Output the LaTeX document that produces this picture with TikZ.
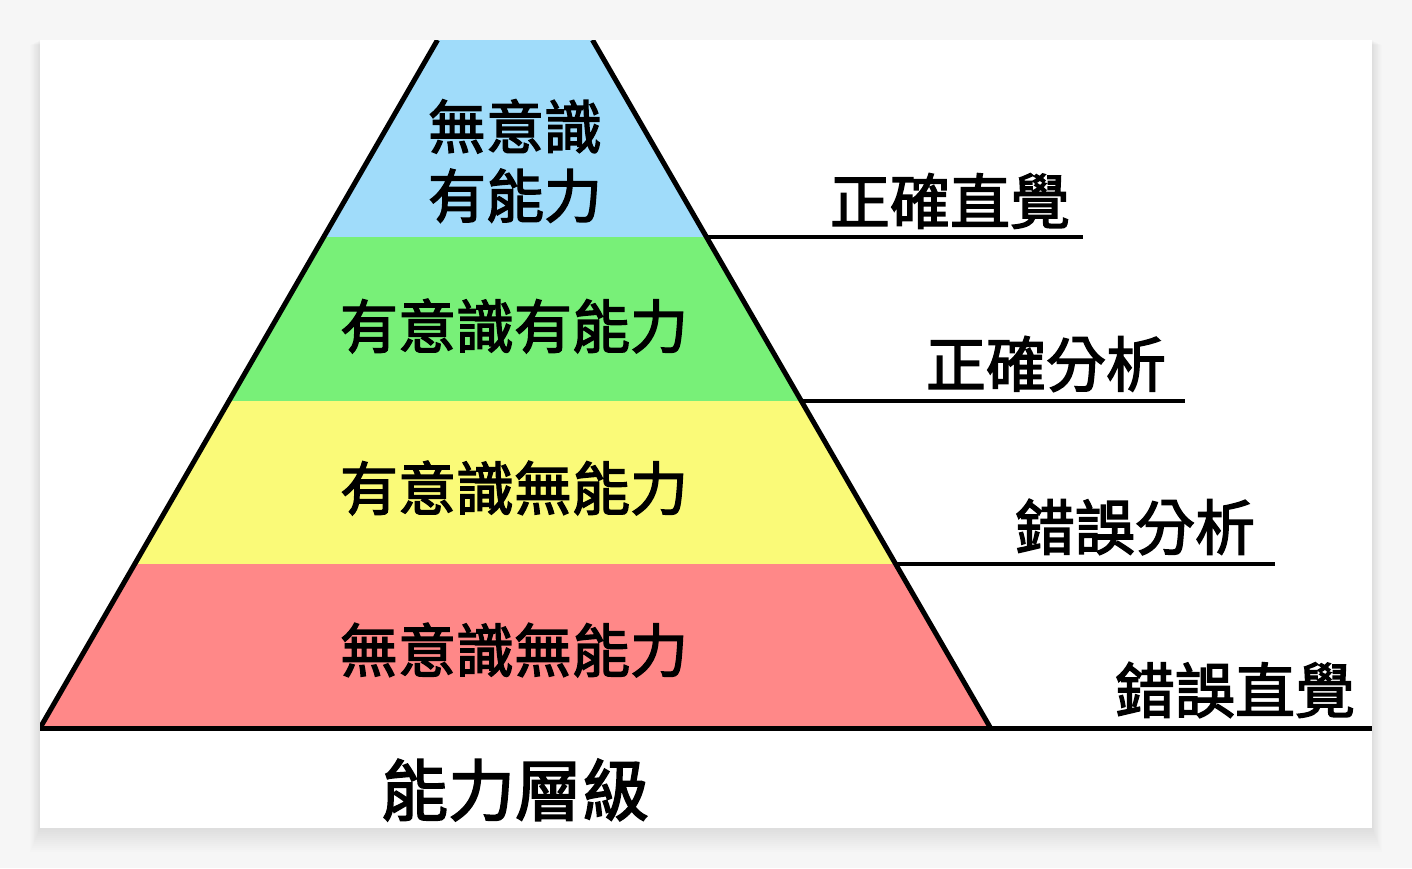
\documentclass[tikz,border=0pt]{standalone}
\usepackage{fontspec}
\newfontfamily\cjk{Noto Sans CJK TC}[FakeBold=2.4]
\usetikzlibrary{positioning}
\definecolor{lvblue}{RGB}{160,220,250}
\definecolor{lvgreen}{RGB}{120,240,120}
\definecolor{lvyellow}{RGB}{250,250,120}
\definecolor{lvred}{RGB}{255,136,136}
\definecolor{lvbg}{RGB}{246,246,246}
\tikzset{
  layertext/.style={font=\cjk\fontsize{58}{69}\selectfont, align=center, inner sep=0pt},
  sidetext/.style={font=\cjk\fontsize{60}{70}\selectfont, inner sep=0pt},
  pyredge/.style={line width=5pt},
  tickline/.style={line width=4pt}
}

\begin{document}
\begin{tikzpicture}[x=1pt,y=-1pt]
\useasboundingbox (0,0) rectangle (1412,868);
\fill[lvbg] (0,0) rectangle (1412,868);
% soft shadow under the card
\foreach \s in {2,4,...,24}
  \fill[black,opacity=0.008] (40-0.4*\s,40+0.2*\s) rectangle (1372+0.4*\s,828+\s);
\fill[white] (40,40) rectangle (1372,828);

\begin{scope}
\clip (40,40) rectangle (1372,828);
% coloured layers
\foreach \ya/\yb/\col in {40/237/lvblue,237/401/lvgreen,401/564/lvyellow,564/728/lvred}{
  \pgfmathsetmacro\la{437.5-0.5785*(\ya-40)}
  \pgfmathsetmacro\ra{592.5+0.5785*(\ya-40)}
  \pgfmathsetmacro\lb{437.5-0.5785*(\yb-40)}
  \pgfmathsetmacro\rb{592.5+0.5785*(\yb-40)}
  \fill[\col] (\la,\ya) -- (\ra,\ya) -- (\rb,\yb) -- (\lb,\yb) -- cycle;
}
\coordinate (tl) at (437.5,40);
\coordinate (tr) at (592.5,40);
\coordinate (bl) at (40,728);
\coordinate (br) at (990.5,728);
\coordinate (b1) at (706.5,237);
\coordinate (b2) at (801.3,401);
\coordinate (b3) at (895.6,564);
\coordinate (e1) at (1083,237);
\coordinate (e2) at (1185,401);
\coordinate (e3) at (1275,564);
\coordinate (e4) at (1372,728);
\draw[pyredge] (tl) -- (bl);
\draw[pyredge] (tr) -- (br);
\draw[pyredge] (bl) -- (e4);
\draw[tickline] (b1) -- (e1);
\draw[tickline] (b2) -- (e2);
\draw[tickline] (b3) -- (e3);
\end{scope}

% level names
\node[layertext] (uncomp) at (515,161) {無意識\\有能力};
\node[layertext] (concomp) at (514,326) {有意識有能力};
\node[layertext] (coninc) at (514,488) {有意識無能力};
\node[layertext] (uninc) at (514,650) {無意識無能力};
\node[layertext, font=\cjk\fontsize{67}{70}\selectfont] (levels) at (515,790) {能力層級};

% judgements
\node[sidetext] (rightint) at (950,201) {正確直覺};
\node[sidetext] (rightana) at (1046,364) {正確分析};
\node[sidetext] (wrongana) at (1135,527) {錯誤分析};
\node[sidetext] (wrongint) at (1235,690) {錯誤直覺};
\end{tikzpicture}
\end{document}
